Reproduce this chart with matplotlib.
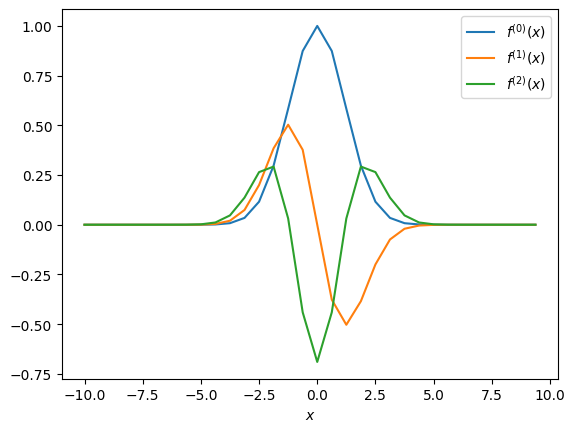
import matplotlib
matplotlib.use("Agg")
import matplotlib.pyplot as plt

x = [-10.0, -9.375, -8.75, -8.125, -7.5, -6.875, -6.25, -5.625, -5.0, -4.375,
     -3.75, -3.125, -2.5, -1.875, -1.25, -0.625, 0.0, 0.625, 1.25, 1.875,
     2.5, 3.125, 3.75, 4.375, 5.0, 5.625, 6.25, 6.875, 7.5, 8.125, 8.75, 9.375]

f0 = [0.0, 0.0, 0.0, 0.0, 0.0, 0.0, 0.0, 0.00002, 0.00018, 0.00136,
      0.00782, 0.0344, 0.1158, 0.2973, 0.5833, 0.8739, 1.0, 0.8739, 0.5833, 0.2973,
      0.1158, 0.0344, 0.00782, 0.00136, 0.00018, 0.00002, 0.0, 0.0, 0.0, 0.0, 0.0, 0.0]

f1 = [0.0, 0.0, 0.0, 0.0, 0.0, 0.0, 0.0, 0.00007, 0.00062, 0.00409,
      0.0202, 0.0742, 0.1997, 0.3846, 0.5031, 0.3769, 0.0, -0.3769, -0.5031, -0.3846,
      -0.1997, -0.0742, -0.0202, -0.00409, -0.00062, -0.00007, 0.0, 0.0, 0.0, 0.0, 0.0, 0.0]

f2 = [0.0, 0.0, 0.0, 0.0, 0.0, 0.0, 0.00002, 0.00025, 0.00202, 0.01142,
      0.0470, 0.1363, 0.2647, 0.2925, 0.0315, -0.4405, -0.69, -0.4405, 0.0315, 0.2925,
      0.2647, 0.1363, 0.0470, 0.01142, 0.00202, 0.00025, 0.00002, 0.0, 0.0, 0.0, 0.0, 0.0]

labels = [r"$f^{(0)}(x)$", r"$f^{(1)}(x)$", r"$f^{(2)}(x)$"]

fig, ax = plt.subplots(figsize=(6.4, 4.8), dpi=100)
for y, lab in zip([f0, f1, f2], labels):
    ax.plot(x, y, label=lab)
ax.set_xlabel(r"$x$")
ax.legend(loc="upper right")
fig.savefig("out.png", dpi=100, bbox_inches="tight")
